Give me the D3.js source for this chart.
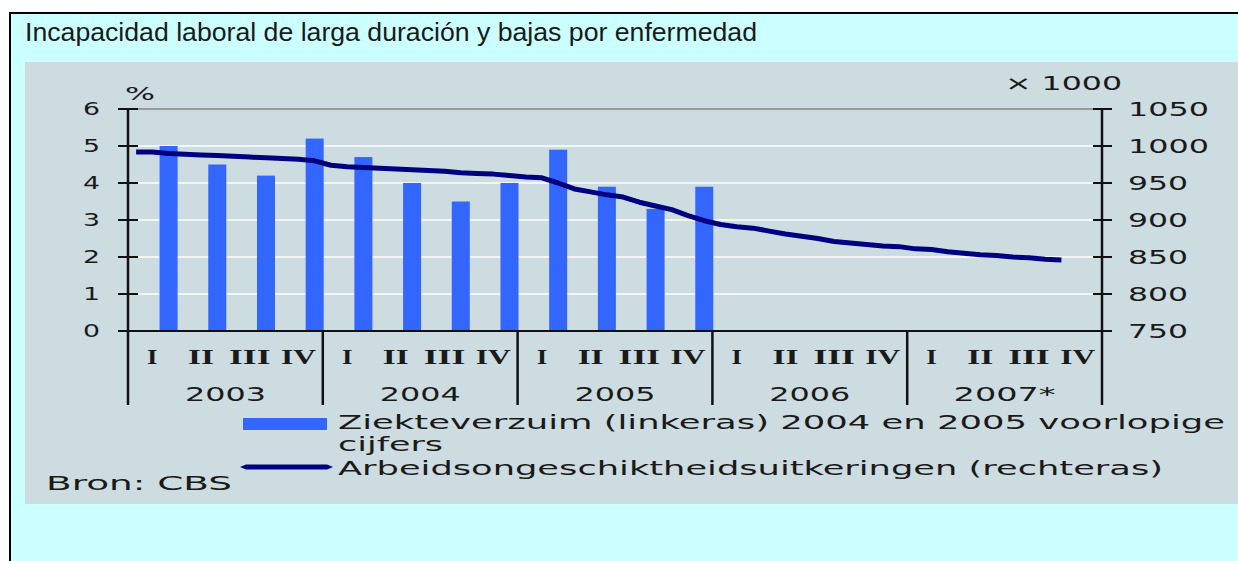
<!DOCTYPE html>
<html>
<head>
<meta charset="utf-8">
<script src="https://cdn.jsdelivr.net/npm/d3@7"></script>
<style>
  html, body { margin: 0; padding: 0; background: #fff; overflow: hidden; }
  text { fill: #1a1a1a; }
</style>
</head>
<body>
<script>
// chart data
var title = 'Incapacidad laboral de larga duración y bajas por enfermedad';
var years = ['2003', '2004', '2005', '2006', '2007*'];
var quarters = ['I', 'II', 'III', 'IV'];
// ziekteverzuim per quarter (%), 2003 I .. 2005 IV
var absence = [5.0, 4.5, 4.2, 5.2, 4.7, 4.0, 3.5, 4.0, 4.9, 3.9, 3.3, 3.9];
// arbeidsongeschiktheidsuitkeringen per month (x 1000), jan 2003 .. oct 2007
var benefits = [
  992, 992, 990, 989, 988, 987, 986, 985, 984, 983, 982, 980,
  974, 972, 971, 970, 969, 968, 967, 966, 964, 963, 962, 960,
  958, 957, 950, 942, 938, 934, 931, 924, 919, 914, 906, 899,
  894, 891, 889, 885, 881, 878, 875, 871, 869, 867, 865, 864,
  861, 860, 857, 855, 853, 852, 850, 849, 847, 846
];
var leftTicks = [0, 1, 2, 3, 4, 5, 6];
var rightTicks = [750, 800, 850, 900, 950, 1000, 1050];
var legendBars = 'Ziekteverzuim (linkeras) 2004 en 2005 voorlopige';
var legendBars2 = 'cijfers';
var legendLine = 'Arbeidsongeschiktheidsuitkeringen (rechteras)';
var source = 'Bron: CBS';

var width = 1238, height = 561;
var sans = '"DejaVu Sans", Verdana, sans-serif';

var svg = d3.select('body').append('svg')
  .attr('width', width)
  .attr('height', height);

// outer frame + grey panel
svg.append('rect')
  .attr('x', 10).attr('y', 13)
  .attr('width', width + 20).attr('height', height + 20)
  .attr('fill', '#ccffff').attr('stroke', '#000').attr('stroke-width', 2);

svg.append('text')
  .attr('x', 25).attr('y', 41)
  .attr('font-family', '"Liberation Sans", Arial, sans-serif')
  .attr('font-size', 25)
  .attr('textLength', 732).attr('lengthAdjust', 'spacingAndGlyphs')
  .text(title);

svg.append('rect')
  .attr('x', 25).attr('y', 62)
  .attr('width', width).attr('height', 442)
  .attr('fill', '#cddce0');

// scales
var x = d3.scaleLinear().domain([0, 60]).range([128, 1102]);
var yL = d3.scaleLinear().domain([0, 6]).range([331, 109]);
var yR = d3.scaleLinear().domain([750, 1050]).range([331, 109]);

// stretched pixel-ish text, ~21px per char
function wide(sel, per) {
  sel.attr('textLength', function() { return this.textContent.length * (per || 21) - 3; })
    .attr('lengthAdjust', 'spacingAndGlyphs');
}

// gridlines
svg.append('g').selectAll('line')
  .data(leftTicks.slice(1))
  .join('line')
  .attr('x1', x(0)).attr('x2', x(60))
  .attr('y1', function(d) { return yL(d); })
  .attr('y2', function(d) { return yL(d); })
  .attr('stroke', function(d) { return d === 6 ? '#999' : '#f2f6f7'; })
  .attr('stroke-width', 2);

// bars
svg.append('g').selectAll('rect')
  .data(absence)
  .join('rect')
  .attr('x', function(d, i) { return x(3 * i + 2.5) - 9; })
  .attr('y', function(d) { return yL(d); })
  .attr('width', 18)
  .attr('height', function(d) { return yL(0) - yL(d); })
  .attr('fill', '#3366ff');

// line
var line = d3.line()
  .x(function(d, i) { return x(i + 0.5); })
  .y(function(d) { return yR(d); });

svg.append('path')
  .datum(benefits)
  .attr('d', line)
  .attr('fill', 'none')
  .attr('stroke', '#000080')
  .attr('stroke-width', 5)
  .attr('stroke-linejoin', 'round');

// axes
var leftAxis = d3.axisLeft(yL).tickValues(leftTicks).tickFormat(d3.format('d'))
  .tickSize(0).tickPadding(28);
var gl = svg.append('g').attr('transform', 'translate(' + x(0) + ',0)').call(leftAxis);
gl.select('.domain').remove();
gl.selectAll('text')
  .attr('font-family', sans).attr('font-size', 18).attr('fill', '#1a1a1a')
  .call(wide, 20);

var rightAxis = d3.axisRight(yR).tickValues(rightTicks).tickFormat(d3.format('d'))
  .tickSize(0).tickPadding(26);
var gr = svg.append('g').attr('transform', 'translate(' + x(60) + ',0)').call(rightAxis);
gr.select('.domain').remove();
gr.selectAll('text')
  .attr('font-family', sans).attr('font-size', 20).attr('fill', '#1a1a1a')
  .call(wide, 21);

// tick marks
svg.append('g').selectAll('line')
  .data(leftTicks)
  .join('line')
  .attr('x1', x(0) - 10).attr('x2', x(0) + 10)
  .attr('y1', function(d) { return yL(d); })
  .attr('y2', function(d) { return yL(d); })
  .attr('stroke', '#111').attr('stroke-width', 2);
svg.append('g').selectAll('line')
  .data(rightTicks)
  .join('line')
  .attr('x1', x(60) - 9).attr('x2', x(60) + 10)
  .attr('y1', function(d) { return yR(d); })
  .attr('y2', function(d) { return yR(d); })
  .attr('stroke', '#111').attr('stroke-width', 2);

// x axis line and year separators
svg.append('line')
  .attr('x1', x(0) - 10).attr('x2', x(60) + 10)
  .attr('y1', yL(0)).attr('y2', yL(0))
  .attr('stroke', '#111').attr('stroke-width', 2);
svg.append('line')
  .attr('x1', x(0)).attr('x2', x(0))
  .attr('y1', yL(6)).attr('y2', 405)
  .attr('stroke', '#111').attr('stroke-width', 2.5);
svg.append('line')
  .attr('x1', x(60)).attr('x2', x(60))
  .attr('y1', yR(1050)).attr('y2', 405)
  .attr('stroke', '#111').attr('stroke-width', 2.5);
svg.append('g').selectAll('line')
  .data(years.slice(1))
  .join('line')
  .attr('x1', function(d, i) { return x(12 * (i + 1)); })
  .attr('x2', function(d, i) { return x(12 * (i + 1)); })
  .attr('y1', yL(0)).attr('y2', 405)
  .attr('stroke', '#111').attr('stroke-width', 2.5);

// quarter labels
var qLabels = [];
years.forEach(function(y, yi) {
  quarters.forEach(function(q, qi) { qLabels.push({ q: q, i: yi * 4 + qi }); });
});
svg.append('g').selectAll('text')
  .data(qLabels)
  .join('text')
  .attr('x', function(d) { return x(3 * d.i + 1.5); })
  .attr('y', 364)
  .attr('text-anchor', 'middle')
  .attr('font-family', '"Liberation Serif", "Times New Roman", serif')
  .attr('font-weight', 'bold')
  .attr('font-size', 21)
  .attr('textLength', function(d) { return d.q === 'IV' ? 35 : 15.5 * d.q.length - 5; })
  .attr('lengthAdjust', 'spacingAndGlyphs')
  .text(function(d) { return d.q; });

// year labels
svg.append('g').selectAll('text')
  .data(years)
  .join('text')
  .attr('x', function(d, i) { return x(12 * i + 6); })
  .attr('y', 401)
  .attr('text-anchor', 'middle')
  .attr('font-family', sans).attr('font-size', 20)
  .text(function(d) { return d; })
  .call(wide, 21);

// unit labels
svg.append('text')
  .attr('x', 125).attr('y', 100)
  .attr('font-family', sans).attr('font-size', 18)
  .attr('textLength', 30).attr('lengthAdjust', 'spacingAndGlyphs')
  .text('%');
svg.append('text')
  .attr('x', 1005).attr('y', 90)
  .attr('font-family', sans).attr('font-size', 20)
  .attr('textLength', 117).attr('lengthAdjust', 'spacingAndGlyphs')
  .text('× 1000');

// legend
svg.append('rect')
  .attr('x', 243).attr('y', 418)
  .attr('width', 84).attr('height', 12)
  .attr('fill', '#3366ff');
svg.append('path')
  .attr('d', 'M240,467 L246,464.5 L327,464.5 L333,467 L327,469.5 L246,469.5 Z')
  .attr('fill', '#000080');

svg.append('text')
  .attr('x', 338).attr('y', 429)
  .attr('font-family', sans).attr('font-size', 19)
  .attr('textLength', 887).attr('lengthAdjust', 'spacingAndGlyphs')
  .text(legendBars);
svg.append('text')
  .attr('x', 338).attr('y', 451)
  .attr('font-family', sans).attr('font-size', 19)
  .attr('textLength', 105).attr('lengthAdjust', 'spacingAndGlyphs')
  .text(legendBars2);
svg.append('text')
  .attr('x', 338).attr('y', 475)
  .attr('font-family', sans).attr('font-size', 19)
  .attr('textLength', 825).attr('lengthAdjust', 'spacingAndGlyphs')
  .text(legendLine);
svg.append('text')
  .attr('x', 46).attr('y', 490)
  .attr('font-family', sans).attr('font-size', 19)
  .attr('textLength', 186).attr('lengthAdjust', 'spacingAndGlyphs')
  .text(source);
</script>
</body>
</html>
